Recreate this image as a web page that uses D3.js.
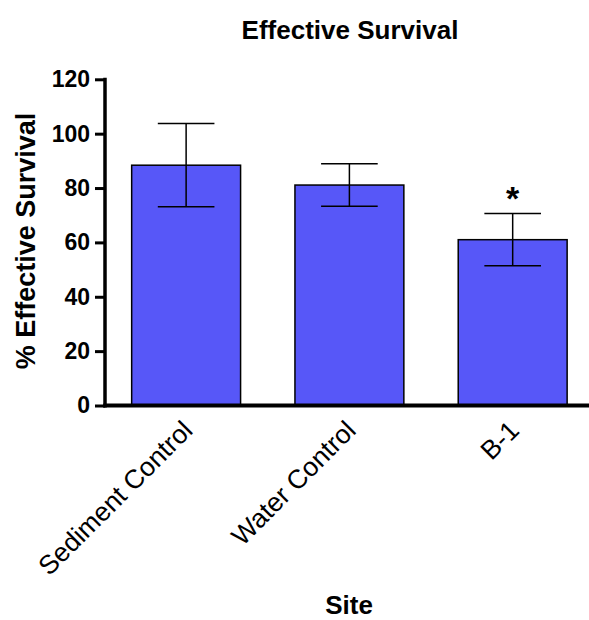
<!DOCTYPE html>
<html>
<head>
<meta charset="utf-8">
<script src="https://cdn.jsdelivr.net/npm/d3@7"></script>
<style>
  body { margin: 0; background: #fff; overflow: hidden; }
  svg { display: block; }
  text { font-family: "Liberation Sans", Arial, sans-serif; }
</style>
</head>
<body>
<svg id="chart" width="589" height="620"></svg>
<script>
// chart values
const categories = ["Sediment Control", "Water Control", "B-1"];
const means = [88.4, 81.1, 61.0];
const sem = [15.3, 7.8, 9.6];
const marks = ["", "", "*"];
const yTicks = [0, 20, 40, 60, 80, 100, 120];

const svg = d3.select("#chart");
const width = 589;

const x = d3.scaleBand()
    .domain(categories)
    .range([104.4, 594.4])
    .paddingInner(0.333)
    .paddingOuter(0.167);

const y = d3.scaleLinear().domain([0, 120]).range([405.5, 79.3]);

// Bars
svg.selectAll("rect.bar")
    .data(categories)
    .enter().append("rect")
    .attr("class", "bar")
    .attr("x", d => x(d))
    .attr("y", (d, i) => y(means[i]))
    .attr("width", x.bandwidth())
    .attr("height", (d, i) => y(0) - y(means[i]))
    .attr("fill", "#5757f8")
    .attr("stroke", "#000")
    .attr("stroke-width", 1.5);

// Error bars
const capHalf = x.bandwidth() * 0.26;
categories.forEach((c, i) => {
    const cx = x(c) + x.bandwidth() / 2;
    const hi = y(means[i] + sem[i]);
    const lo = y(means[i] - sem[i]);
    svg.append("line")
        .attr("x1", cx).attr("x2", cx)
        .attr("y1", hi).attr("y2", lo)
        .attr("stroke", "#000").attr("stroke-width", 1.5);
    [hi, lo].forEach(v => {
        svg.append("line")
            .attr("x1", cx - capHalf).attr("x2", cx + capHalf)
            .attr("y1", v).attr("y2", v)
            .attr("stroke", "#000").attr("stroke-width", 1.5);
    });
    if (marks[i]) {
        svg.append("text")
            .attr("x", cx)
            .attr("y", hi - 4)
            .attr("text-anchor", "middle")
            .attr("font-size", "34px")
            .attr("font-weight", "bold")
            .text(marks[i]);
    }
});

// Y axis
const yAxis = d3.axisLeft(y).tickValues(yTicks).tickSize(10).tickPadding(5);
const gy = svg.append("g").attr("transform", "translate(105,0)").call(yAxis);
gy.select(".domain").remove();
gy.selectAll(".tick line").attr("stroke", "#000").attr("stroke-width", 3);
gy.selectAll(".tick text")
    .attr("font-size", "23px")
    .attr("font-weight", "bold")
    .attr("fill", "#000")
    .style("font-family", "'Liberation Sans', Arial, sans-serif");

svg.append("line")
    .attr("x1", 105).attr("x2", 105)
    .attr("y1", y(120) - 1.5).attr("y2", y(0) + 2)
    .attr("stroke", "#000").attr("stroke-width", 3.5);

// X axis
svg.append("line")
    .attr("x1", 103.25).attr("x2", width)
    .attr("y1", y(0)).attr("y2", y(0))
    .attr("stroke", "#000").attr("stroke-width", 4);

// Category labels
categories.forEach(c => {
    const ax = x(c) + x.bandwidth() / 2 + 8;
    const ay = 432;
    svg.append("text")
        .attr("transform", `translate(${ax},${ay}) rotate(-45)`)
        .attr("text-anchor", "end")
        .attr("font-size", "26.5px")
        .text(c);
});

// Title and axis titles
svg.append("text")
    .attr("x", 350).attr("y", 39)
    .attr("text-anchor", "middle")
    .attr("font-size", "26px")
    .attr("font-weight", "bold")
    .text("Effective Survival");

svg.append("text")
    .attr("transform", "translate(35,241) rotate(-90)")
    .attr("text-anchor", "middle")
    .attr("font-size", "27px")
    .attr("font-weight", "bold")
    .text("% Effective Survival");

svg.append("text")
    .attr("x", 349).attr("y", 614)
    .attr("text-anchor", "middle")
    .attr("font-size", "26px")
    .attr("font-weight", "bold")
    .text("Site");
</script>
</body>
</html>
